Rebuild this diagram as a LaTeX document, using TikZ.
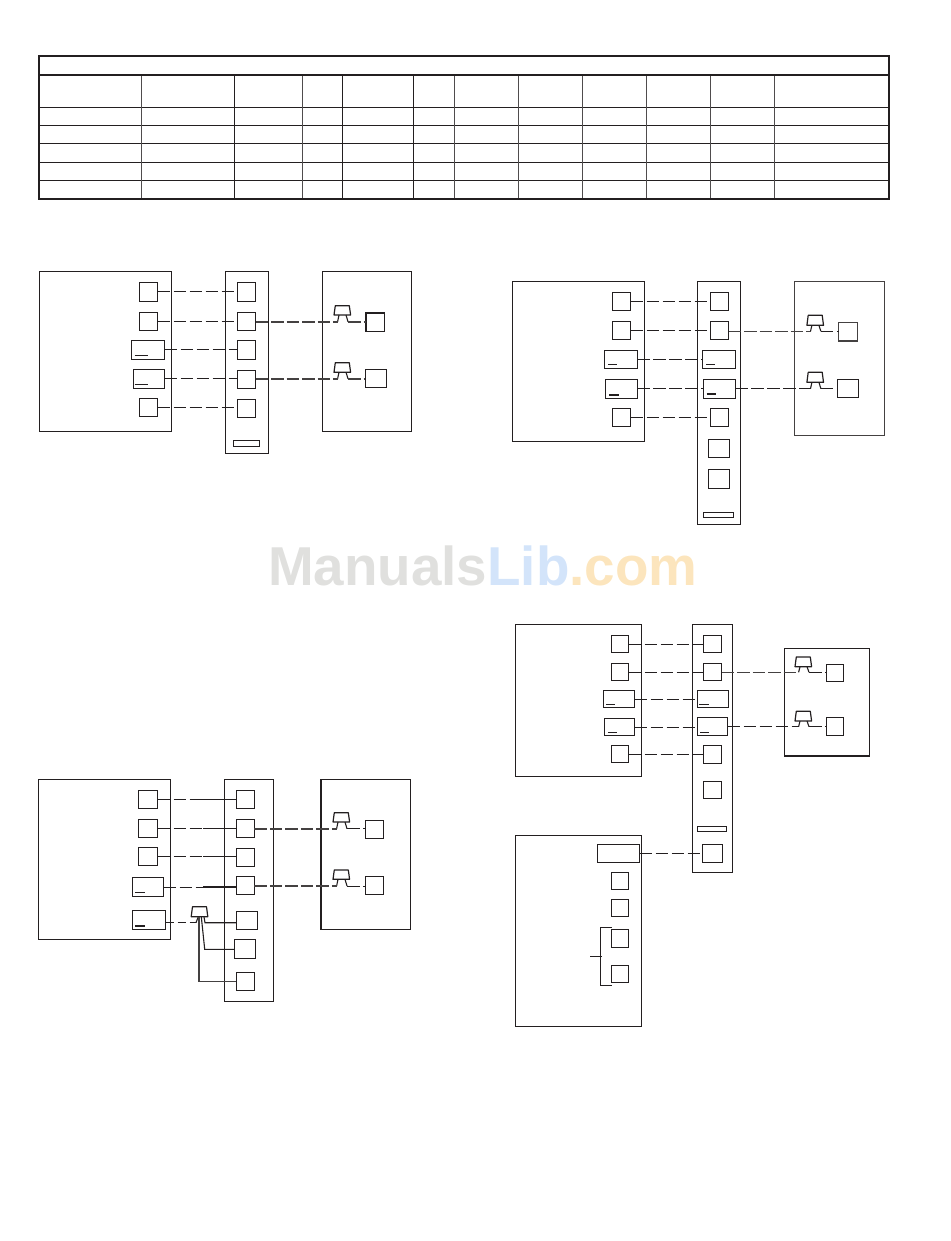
\documentclass[tikz,border=0pt]{standalone}
\usepackage{fontspec}
\setmainfont{Liberation Sans}
\definecolor{wmgrey}{HTML}{E0E0DE}
\definecolor{wmblue}{HTML}{D3E4FA}
\definecolor{wmorange}{HTML}{FCE5BD}
\definecolor{ink}{HTML}{231F20}
\tikzset{
  bx/.style={draw=ink,line width=1.1pt,inner sep=0pt,outer sep=0pt,rectangle},
  gbx/.style={bx,draw=ink!85,line width=1.5pt},
  dl/.style={draw=ink,line width=1pt,dash pattern=on 12.5pt off 3.5pt},
  dg/.style={draw=ink!85,line width=1.6pt,dash pattern=on 12.5pt off 3pt},
  sl/.style={draw=ink,line width=1.1pt},
  leg/.style={draw=ink,line width=1.1pt},
  lampshape/.style={draw=ink,line width=1.2pt,line join=round},
  tbl/.style={draw=ink,line width=1.1pt},
  tblg/.style={draw=ink!80,line width=1.05pt},
  tblo/.style={draw=ink,line width=2.2pt},
}
% name, x0, y0, x1, y1, style
\newcommand\bxn[6][bx]{\node[#1,minimum width={(#4-#2)*1pt},minimum height={(#5-#3)*1pt}] (#6) at ({(#2+#4)/2},{(#3+#5)/2}) {};}
% trapezoid outline: centre x, top, bottom
\newcommand\lampbody[3]{\draw[lampshape] ({#1-7},#2) -- ({#1+7},#2) -- ({#1+8.3},#3) -- ({#1-8.3},#3) -- cycle;}
% name, cx, top, bottom, foot
\newcommand\lampn[5]{%
  \lampbody{#2}{#3}{#4}
  \coordinate (#1-l) at ({#2-4.7},#5);
  \coordinate (#1-r) at ({#2+5.7},#5);
  \draw[leg] ({#2-3.3},#4) -- (#1-l);
  \draw[leg] ({#2+3.7},#4) -- (#1-r);
}
\begin{document}
\begin{tikzpicture}[x=1pt,y=-1pt]
\useasboundingbox (0,0) rectangle (950,1241);
% watermark
\node[anchor=base west,inner sep=0pt,font=\fontsize{54.8}{55}\selectfont\bfseries] (wm) at (268,585.5)
  {\textcolor{wmgrey}{Manuals}\textcolor{wmblue}{Lib}\textcolor{wmorange}{.com}};
% table
\foreach \yy in {107.3,125.3,143.3,162.3,180.3} \draw[tbl] (39,\yy) -- (889,\yy);
\foreach \xx in {141.7,302.3,454.4,518.5,582.5,646.5,710.5,774.5} \draw[tblg] (\xx,74.7) -- (\xx,198.7);
\foreach \xx in {234.3,342.3,413.3} \draw[tbl] (\xx,74.7) -- (\xx,198.7);
\draw[tblo] (39,74.7) -- (889,74.7);
\draw[tblo] (39,56) rectangle (889,198.7);
% ---------- figure 1
\bxn{39.3}{271.7}{171.3}{431.3}{aL}
\bxn{225.3}{271.7}{268.7}{453.3}{aS}
\bxn{322.3}{271.7}{411.3}{431.3}{aR}
\bxn{139.3}{282.3}{157.7}{301.3}{a1}
\bxn{139.3}{312.3}{157.7}{330.3}{a2}
\bxn{131.3}{340.3}{164.7}{359.3}{a3}
\bxn{133.3}{369.3}{164.7}{388.3}{a4}
\bxn{139.3}{398.3}{157.7}{416.3}{a5}
\draw[sl] (134.7,355.3) -- (148,355.3);
\draw[sl] (134.7,384.3) -- (148,384.3);
\bxn{237.3}{282.3}{255.7}{301.3}{am1}
\bxn{237.3}{312.3}{255.7}{330.3}{am2}
\bxn{237.3}{340.3}{255.7}{359.3}{am3}
\bxn{237.3}{370.3}{255.7}{388.3}{am4}
\bxn{237.3}{399.3}{255.7}{417.3}{am5}
\bxn{233.3}{440.3}{259.7}{446.3}{amr}
\bxn{366}{313}{384.7}{331.7}{ar1}
\bxn{365.3}{369.3}{386.3}{387.3}{ar2}
\lampn{al1}{342.3}{305.7}{315}{321.7}
\lampn{al2}{342.3}{362.7}{372.3}{378.7}
\foreach \n in {1,...,5} \draw[dl] (a\n.east) -- (a\n.east -| am\n.west);
\draw[dg] (am2.east |- al1-l) -- (al1-l);
\draw[dg] (al1-r) -- (al1-r -| ar1.west);
\draw[dg] (am4.east |- al2-l) -- (al2-l);
\draw[dg] (al2-r) -- (al2-r -| ar2.west);
% ---------- figure 2
\bxn{512.3}{281.3}{644.7}{441.3}{bL}
\bxn{697.3}{281.3}{740.3}{524.3}{bS}
\bxn[gbx]{794.7}{281.3}{884.3}{435.7}{bR}
\bxn{612.3}{292.3}{630.7}{310.3}{b1}
\bxn{612.3}{321.3}{630.7}{339.3}{b2}
\bxn{604.3}{350.3}{637.3}{368.3}{b3}
\bxn{605.3}{379.3}{637.3}{398.3}{b4}
\bxn{612.3}{408.3}{630.7}{426.3}{b5}
\draw[sl] (608,364.3) -- (617,364.3);
\draw[sl] (609.3,395) -- (619.3,395);
\bxn{710.3}{292.3}{728.7}{310.3}{bm1}
\bxn{710.3}{321.3}{728.7}{339.3}{bm2}
\bxn{702.3}{350.3}{735.3}{368.3}{bm3}
\bxn{703.3}{379.3}{735.3}{398.3}{bm4}
\bxn{710.3}{408.3}{728.7}{426.3}{bm5}
\draw[sl] (706,364.3) -- (715,364.3);
\draw[sl] (706.7,394) -- (716,394);
\bxn{708.3}{439.3}{729.7}{457.3}{bm6}
\bxn{708.3}{469.3}{729.7}{488.3}{bm7}
\bxn{703.3}{512.3}{733.7}{517.3}{bmr}
\bxn[gbx]{838.7}{322.3}{857.3}{341}{br1}
\bxn{837.3}{379.3}{858.7}{397.3}{br2}
\lampn{bl1}{815.2}{315.3}{325.3}{331.3}
\lampn{bl2}{815.2}{372.3}{382.3}{388.7}
\foreach \n in {1,...,5} \draw[dl] (b\n.east) -- (b\n.east -| bm\n.west);
\draw[dg] (bm2.east |- bl1-l) -- (bl1-l);
\draw[dl] (bl1-r) -- (bl1-r -| br1.west);
\draw[dl] (bm4.east |- bl2-l) -- (bl2-l);
\draw[dl] (bl2-r) -- (bl2-r -| br2.west);
% ---------- figure 3
\bxn{38.3}{779.3}{170.3}{939.3}{cL}
\bxn{224.7}{779.3}{273.3}{1001.3}{cS}
\bxn{321}{779.3}{410.7}{929.3}{cR}
\bxn{138.3}{790.3}{157.7}{808.3}{c1}
\bxn{138.3}{819.3}{157.7}{837.3}{c2}
\bxn{138.3}{847.3}{157.7}{865.3}{c3}
\bxn{132.3}{877.3}{163.7}{896.7}{c4}
\bxn{132.3}{910.3}{165.7}{929.3}{c5}
\draw[sl] (135.3,892.3) -- (145.3,892.3);
\draw[sl] (135.3,926) -- (144.7,926);
\bxn{236.3}{790.3}{254.3}{808.3}{cm1}
\bxn{236.3}{819.3}{254.3}{837.3}{cm2}
\bxn{236.3}{848.3}{254.3}{866.3}{cm3}
\bxn{236.3}{876.3}{254.3}{894.3}{cm4}
\bxn{236.3}{911.3}{257.7}{929.3}{cm5}
\bxn{234.3}{939.3}{255.7}{958.3}{cm6}
\bxn{236.3}{972.3}{254.3}{990.3}{cm7}
\bxn{365.3}{820.7}{383.3}{838.7}{cr1}
\bxn[bx,line width=1.5pt]{365.3}{876.7}{383.3}{894.7}{cr2}
\lampn{cl1}{341.3}{812.7}{822}{828.7}
\lampn{cl2}{341.3}{870}{879.3}{886}
\coordinate (cj1) at (196.7,0);
\coordinate (cj2) at (203.3,0);
\draw[dl] (c1.east) -- (c1.east -| cj1);
\draw[sl] (c1.east -| cj1) -- (c1.east -| cm1.west);
\draw[dl,line width=1.5pt] (c2.east) -- (c2.east -| cj2);
\draw[sl] (c2.east -| cj2) -- (c2.east -| cm2.west);
\draw[dl] (c3.east) -- (c3.east -| cj2);
\draw[sl,line width=1.5pt] (c3.east -| cj2) -- (c3.east -| cm3.west);
\draw[dl] (c4.east) -- (c4.east -| cj2);
\draw[sl] (c4.east -| cj2) -- (c4.east -| cm4.west);
\draw[dg] (cm2.east |- cl1-l) -- (cl1-l);
\draw[dl] (cl1-r) -- (cl1-r -| cr1.west);
\draw[dg] (cm4.east |- cl2-l) -- (cl2-l);
\draw[dl] (cl2-r) -- (cl2-r -| cr2.west);
% splitter
\lampbody{199.5}{906.7}{916.7}
\coordinate (cl3-l) at (196,922.7);
\coordinate (cl3-a) at (201.3,916.7);
\coordinate (cl3-c) at (199,916.7);
\draw[leg] (198.3,916.7) -- (cl3-l);
\draw[dl,line width=1.4pt,dash pattern=on 8pt off 4pt] (c5.east |- cl3-l) -- (cl3-l);
\draw[sl] (204,916.7) -- (205,922.7) -- (cm5.west |- 205,922.7);
\draw[sl] (cl3-a) -- (204.7,949.3) -- (cm6.west |- 204.7,949.3);
\draw[draw=ink!85,line width=1.5pt] (cl3-c) -- (199,981.7) -- (cm7.west |- 199,981.7);
% ---------- figure 4
\bxn{515.3}{624.3}{641.3}{776.3}{dL}
\bxn{692.3}{624.3}{732.3}{872.7}{dS}
\bxn{784.3}{648.7}{869.3}{756}{dR}
\bxn{611.3}{635.3}{628.7}{652.7}{d1}
\bxn{611.3}{663.3}{628.7}{680.7}{d2}
\bxn{603.3}{690.3}{634.7}{707.7}{d3}
\bxn{604.3}{718.3}{634.7}{735.7}{d4}
\bxn{611.3}{745.3}{628.7}{762.7}{d5}
\draw[sl] (606,704.3) -- (615,704.3);
\draw[sl] (608,732.3) -- (617,732.3);
\bxn{703.3}{635.3}{721.7}{652.7}{dm1}
\bxn{703.3}{663.3}{721.7}{680.7}{dm2}
\bxn{697.3}{690.3}{728.7}{707.7}{dm3}
\bxn{697.3}{717.3}{727.7}{735.7}{dm4}
\bxn{703.3}{745.3}{721.7}{763.3}{dm5}
\bxn{703.3}{781.3}{721.7}{798.7}{dm6}
\bxn{697.3}{826.3}{726.7}{831.7}{dmr}
\bxn{702.3}{844.3}{722.7}{862.3}{dm7}
\draw[sl] (699.3,704.3) -- (708.7,704.3);
\draw[sl] (700,732.3) -- (709,732.3);
\bxn{826.3}{664.3}{843.7}{681.7}{dr1}
\bxn[bx,line width=1.5pt]{826.3}{717.7}{843.7}{735.3}{dr2}
\lampn{dl1}{803.3}{657}{666.7}{672.3}
\lampn{dl2}{803.3}{711.3}{721}{726.7}
\foreach \n in {1,...,5} \draw[dl] (d\n.east) -- (d\n.east -| dm\n.west);
\draw[dg] (dm2.east |- dl1-l) -- (dl1-l);
\draw[dl] (dl1-r) -- (dl1-r -| dr1.west);
\draw[dl] (dm4.east |- dl2-l) -- (dl2-l);
\draw[dl] (dl2-r) -- (dl2-r -| dr2.west);
% lower-left box
\bxn{515.3}{835.3}{641.3}{1026.3}{eL}
\bxn{597.3}{844.3}{639.7}{862.3}{e0}
\bxn{611.3}{872.3}{628.7}{889.7}{e1}
\bxn{611.3}{899.3}{628.7}{916.7}{e2}
\bxn{611.3}{929.3}{628.7}{947.3}{e3}
\bxn{611.3}{965.3}{628.7}{982.7}{e4}
\draw[dl] (e0.east) -- (e0.east -| dm7.west);
\draw[sl] (611.7,927.3) -- (600.3,927.3) -- (600.3,985.3) -- (611.7,985.3);
\draw[sl] (590,956.3) -- (601.7,956.3);
\end{tikzpicture}
\end{document}
